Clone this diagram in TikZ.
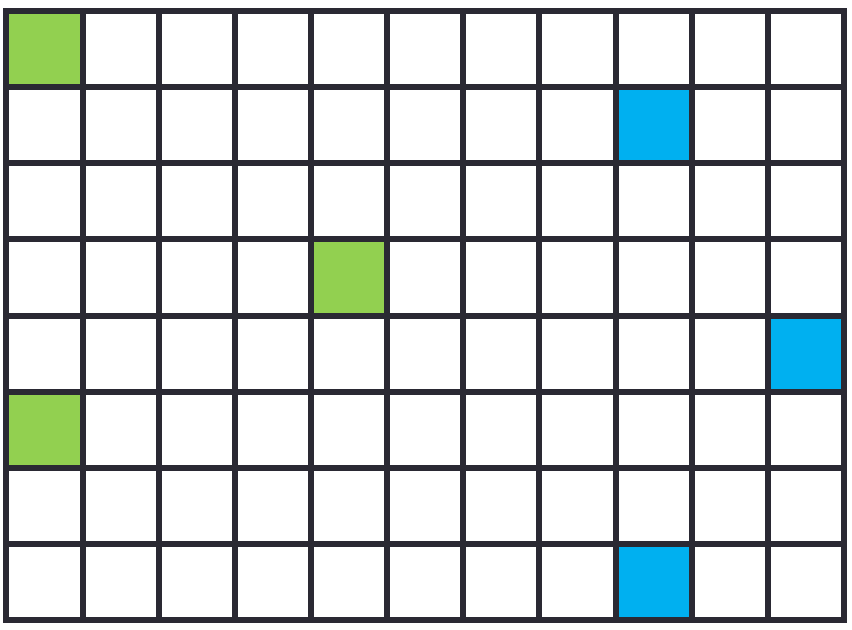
\documentclass[tikz,border=0pt]{standalone}
\usepackage{xcolor}
\definecolor{gridline}{RGB}{42,41,51}
\definecolor{cellgreen}{RGB}{146,208,80}
\definecolor{cellblue}{RGB}{0,176,240}
\tikzset{
  gridstyle/.style={draw=gridline, line width=2.25pt, line cap=rect},
  greencell/.style={fill=cellgreen},
  bluecell/.style={fill=cellblue}
}
\begin{document}
\begin{tikzpicture}
      \useasboundingbox (-0.085, -0.118) rectangle (11.105, 8.145);
      \fill[greencell] (0, 7) rectangle (1, 8);
      \fill[bluecell] (8, 6) rectangle (9, 7);
      \fill[greencell] (4, 4) rectangle (5, 5);
      \fill[bluecell] (10, 3) rectangle (11, 4);
      \fill[greencell] (0, 2) rectangle (1, 3);
      \fill[bluecell] (8, 0) rectangle (9, 1);
      \draw[gridstyle] (0, 0) grid (11, 8);
    \end{tikzpicture}
\end{document}
